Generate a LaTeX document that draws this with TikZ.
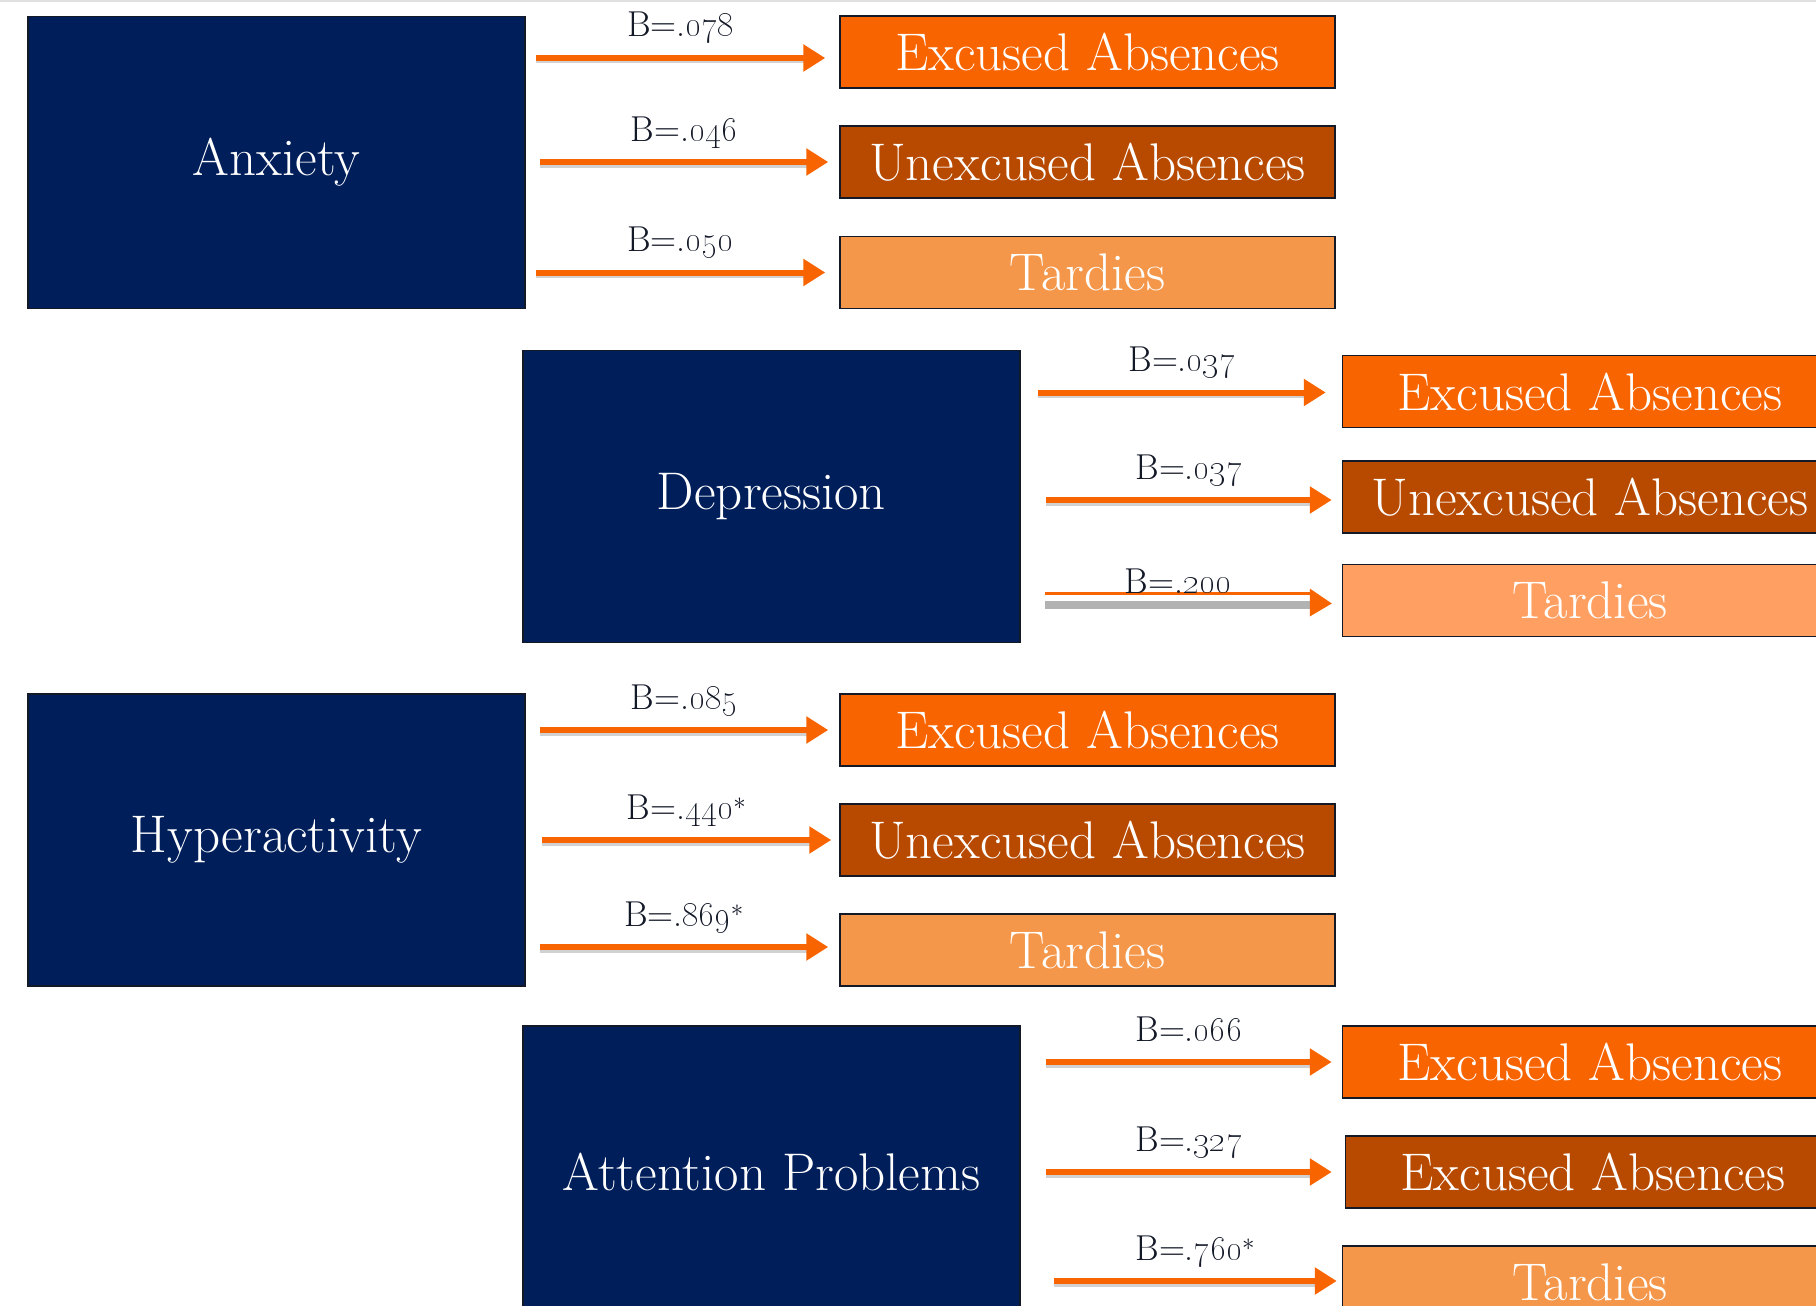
\documentclass[tikz,border=0pt]{standalone}
\usetikzlibrary{arrows.meta}
\definecolor{navy}{RGB}{0,30,90}
\definecolor{exc}{RGB}{248,100,0}
\definecolor{unexc}{RGB}{184,74,0}
\definecolor{tard}{RGB}{245,151,74}
\definecolor{tardl}{RGB}{255,160,98}
\definecolor{arrc}{RGB}{248,100,0}
\definecolor{edge}{RGB}{20,25,40}
\tikzset{
  predbox/.style={draw=edge, line width=1.5pt, fill=navy, text=white, minimum width=497pt, minimum height=292pt, inner sep=0pt, font=\fontsize{53}{58}\selectfont},
  outbox/.style={draw=edge, line width=1.5pt, text=white, minimum width=495pt, minimum height=72pt, inner sep=0pt, font=\fontsize{53}{58}\selectfont},
  arr/.style={draw=arrc, line width=6pt, -{Triangle[length=22pt,width=26pt]}},
  shad/.style={draw=black!18, line width=5pt},
  blab/.style={anchor=base, text=edge, inner sep=0pt, font=\fontsize{36}{40}\selectfont}
}
\newcommand{\bval}[1]{B=.\oldstylenums{#1}}
\begin{document}
\begin{tikzpicture}[x=1pt,y=-1pt]
\useasboundingbox (0,0) rectangle (1816,1306);
\fill[white] (0,0) rectangle (1816,1306);
\draw[black!12, line width=2pt] (0,1) -- (1816,1);
% predictors
\node[predbox] (anx) at (276.5,162.5) {Anxiety};
\node[predbox] (dep) at (771.5,496.5) {Depression};
\node[predbox] (hyp) at (276.5,840) {Hyperactivity};
\node[predbox] (att) at (771.5,1172) {Attention Problems};
% outcomes column 1
\node[outbox, fill=exc] (a1) at (1087.5,52) {Excused Absences};
\node[outbox, fill=unexc] (a2) at (1087.5,162) {Unexcused Absences};
\node[outbox, fill=tard] (a3) at (1087.5,272.5) {Tardies};
\node[outbox, fill=exc] (h1) at (1087.5,730) {Excused Absences};
\node[outbox, fill=unexc] (h2) at (1087.5,840) {Unexcused Absences};
\node[outbox, fill=tard] (h3) at (1087.5,950) {Tardies};
% outcomes column 2
\node[outbox, fill=exc] (d1) at (1590,391.5) {Excused Absences};
\node[outbox, fill=unexc] (d2) at (1590,497) {Unexcused Absences};
\node[outbox, fill=tardl] (d3) at (1590,600.5) {Tardies};
\node[outbox, fill=exc] (t1) at (1590,1062) {Excused Absences};
\node[outbox, fill=unexc] (t2) at (1593,1172) {Excused Absences};
\node[outbox, fill=tard] (t3) at (1590,1282) {Tardies};
% arrows
\foreach \s/\t/\a/\b/\dy/\v in {anx/a1/10/14/6/078, anx/a2/14/11/0/046, anx/a3/10/14/0/050,
  hyp/h1/14/11/0/085, hyp/h2/16/8/0/440$^*$, hyp/h3/14/11/-3/869$^*$,
  dep/d1/17/16/1/037, dep/d2/25/10/3/037,
  att/t1/25/10/0/066, att/t2/25/13/0/327, att/t3/33/5/-1/760$^*$}{
  \draw[shad] ([xshift=\a pt, yshift=-\dy pt-3pt]\s.east |- \t.west) -- ([xshift=-\b pt-20pt, yshift=-\dy pt-3pt]\t.west);
  \draw[arr] ([xshift=\a pt, yshift=-\dy pt]\s.east |- \t.west) -- ([xshift=-\b pt, yshift=-\dy pt]\t.west)
    node[blab, midway, yshift=21pt] {\bval{\v}};
}
% depression -> tardies (odd arrow)
\draw[black!30, line width=8pt] ([xshift=24pt, yshift=-4pt]dep.east |- d3.west) -- ([xshift=-30pt, yshift=-4pt]d3.west);
\draw[arrc, line width=3pt] ([xshift=24pt, yshift=7pt]dep.east |- d3.west) -- ([xshift=-30pt, yshift=7pt]d3.west)
  node[blab, midway, yshift=0pt] {\bval{200}};
\fill[arrc] ([xshift=-32pt, yshift=12pt]d3.west) -- ([xshift=-10pt, yshift=-3pt]d3.west) -- ([xshift=-32pt, yshift=-16pt]d3.west) -- cycle;
\end{tikzpicture}
\end{document}
